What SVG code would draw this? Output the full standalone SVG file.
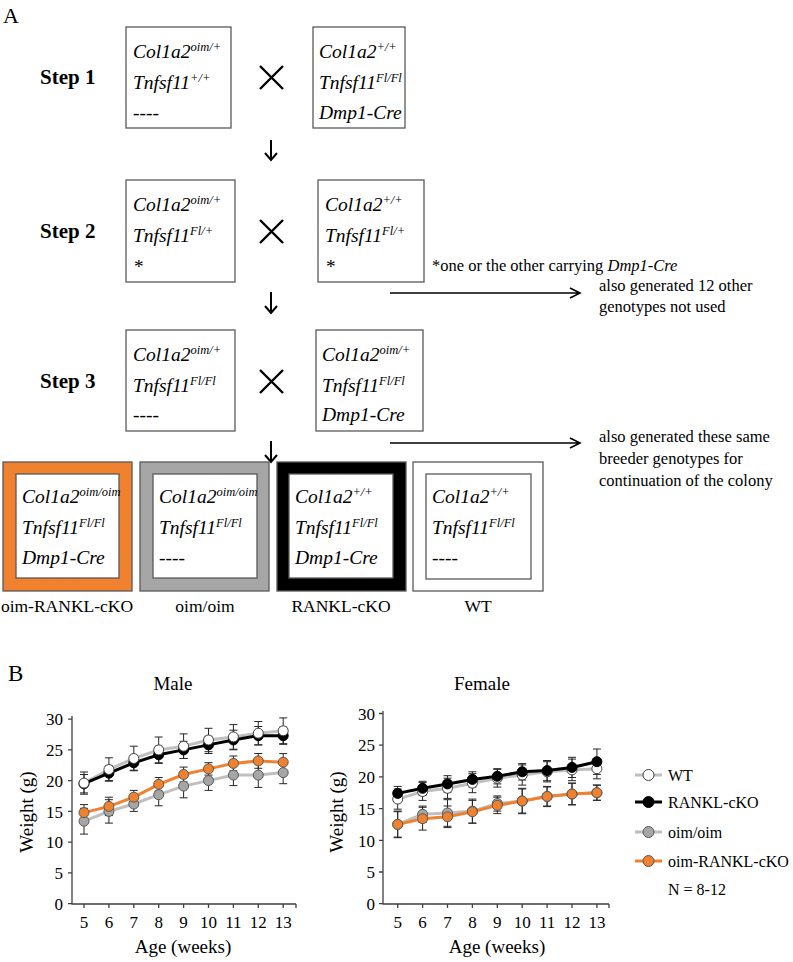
<svg xmlns="http://www.w3.org/2000/svg" width="793" height="962" viewBox="0 0 793 962">
<style>
text{font-family:"Liberation Serif","Times New Roman",serif;fill:#000}
.g{font-style:italic;font-size:19.5px}
.sup{font-size:12.5px}
.step{font-weight:bold;font-size:21px}
.note{font-size:16.5px}
.lab{font-size:17.5px;text-anchor:middle}
.box{fill:#fff;stroke:#595959;stroke-width:1.3}
.cross{stroke:#000;stroke-width:2.4;fill:none}
.arr{stroke:#000;stroke-width:2;fill:none}
.harr{stroke:#000;stroke-width:1.6;fill:none}
.tk{font-size:17px;text-anchor:end}
.tx{font-size:17px;text-anchor:middle}
.ttl{font-size:19px;text-anchor:middle}
.axis{stroke:#404040;stroke-width:1.3;fill:none}
.eb{stroke:#262626;stroke-width:1;fill:none}
.lWT{stroke:#bfbfbf;stroke-width:3;fill:none}
.lRK{stroke:#000;stroke-width:3;fill:none}
.lOI{stroke:#bfbfbf;stroke-width:3;fill:none}
.lOR{stroke:#f0812f;stroke-width:3;fill:none}
.mWT{fill:#fff;stroke:#404040;stroke-width:1}
.mRK{fill:#000;stroke:#000;stroke-width:1}
.mOI{fill:#a6a6a6;stroke:#595959;stroke-width:1}
.mOR{fill:#f0812f;stroke:#595959;stroke-width:1}
.leg{font-size:16px}
</style>

<text x="3" y="23" font-size="22">A</text>

<!-- Step 1 -->
<g id="step1">
<text class="step" x="40" y="84">Step 1</text>
</g>
<g id="s1-left">
<rect class="box" x="126" y="27" width="105" height="101"/>
<text class="g" x="133" y="58">Col1a2<tspan class="sup" dy="-7">oim/+</tspan></text>
<text class="g" x="133" y="89">Tnfsf11<tspan class="sup" dy="-7">+/+</tspan></text>
<text class="g" x="133" y="119">----</text>
</g>
<g id="s1-cross"><path class="cross" d="M260 66L283 89M283 66L260 89"/></g>
<g id="s1-right">
<rect class="box" x="313" y="27" width="92" height="101"/>
<text class="g" x="319" y="58">Col1a2<tspan class="sup" dy="-7">+/+</tspan></text>
<text class="g" x="319" y="89">Tnfsf11<tspan class="sup" dy="-7">Fl/Fl</tspan></text>
<text class="g" x="319" y="119">Dmp1-Cre</text>
</g>

<!-- Step 2 -->
<g id="step2">
<text class="step" x="40" y="238">Step 2</text>
</g>
<g id="s2-left">
<rect class="box" x="126" y="180" width="109" height="102"/>
<text class="g" x="133" y="211">Col1a2<tspan class="sup" dy="-7">oim/+</tspan></text>
<text class="g" x="133" y="242">Tnfsf11<tspan class="sup" dy="-7">Fl/+</tspan></text>
<text class="g" x="133" y="273">*</text>
</g>
<g id="s2-cross"><path class="cross" d="M260 220L283 243M283 220L260 243"/></g>
<g id="s2-right">
<rect class="box" x="318" y="180" width="106" height="102"/>
<text class="g" x="325" y="211">Col1a2<tspan class="sup" dy="-7">+/+</tspan></text>
<text class="g" x="325" y="242">Tnfsf11<tspan class="sup" dy="-7">Fl/+</tspan></text>
<text class="g" x="325" y="273">*</text>
</g>
<text class="note" x="432" y="271">*one or the other carrying <tspan font-style="italic">Dmp1-Cre</tspan></text>
<text class="note" x="599" y="291">also generated 12 other</text>
<text class="note" x="599" y="312">genotypes not used</text>

<!-- Step 3 -->
<g id="step3">
<text class="step" x="40" y="388">Step 3</text>
</g>
<g id="s3-left">
<rect class="box" x="126" y="330" width="109" height="101"/>
<text class="g" x="133" y="361">Col1a2<tspan class="sup" dy="-7">oim/+</tspan></text>
<text class="g" x="133" y="392">Tnfsf11<tspan class="sup" dy="-7">Fl/Fl</tspan></text>
<text class="g" x="133" y="421">----</text>
</g>
<g id="s3-cross"><path class="cross" d="M260 370L283 393M283 370L260 393"/></g>
<g id="s3-right">
<rect class="box" x="316" y="330" width="107" height="101"/>
<text class="g" x="322" y="361">Col1a2<tspan class="sup" dy="-7">oim/+</tspan></text>
<text class="g" x="322" y="392">Tnfsf11<tspan class="sup" dy="-7">Fl/Fl</tspan></text>
<text class="g" x="322" y="421">Dmp1-Cre</text>
</g>
<text class="note" x="599" y="442">also generated these same</text>
<text class="note" x="599" y="464">breeder genotypes for</text>
<text class="note" x="599" y="486">continuation of the colony</text>

<!-- connectors -->
<g id="connectors">
<path class="arr" d="M271 140V160M265 153L271 160L277 153"/>
<path class="arr" d="M271 292V313M265 306L271 313L277 306"/>
<path class="arr" d="M271 441V462M265 455L271 462L277 455"/>
<path class="harr" d="M390 293H580M570 288L580 293L570 298"/>
<path class="harr" d="M390 443H580M570 438L580 443L570 448"/>
</g>

<!-- offspring -->
<g id="oim-rankl-cko">
<rect x="3" y="462" width="129" height="129" fill="#f0812f" stroke="#595959" stroke-width="1.3"/>
<rect class="box" x="16" y="474" width="103" height="104"/>
<text class="g" x="22" y="503">Col1a2<tspan class="sup" dy="-7">oim/oim</tspan></text>
<text class="g" x="22" y="534">Tnfsf11<tspan class="sup" dy="-7">Fl/Fl</tspan></text>
<text class="g" x="22" y="564">Dmp1-Cre</text>
<text class="lab" x="67" y="612">oim-RANKL-cKO</text>
</g>
<g id="oim-oim">
<rect x="140" y="462" width="129" height="129" fill="#a6a6a6" stroke="#595959" stroke-width="1.3"/>
<rect class="box" x="153" y="474" width="104" height="104"/>
<text class="g" x="159" y="503">Col1a2<tspan class="sup" dy="-7">oim/oim</tspan></text>
<text class="g" x="159" y="534">Tnfsf11<tspan class="sup" dy="-7">Fl/Fl</tspan></text>
<text class="g" x="159" y="564">----</text>
<text class="lab" x="205" y="612">oim/oim</text>
</g>
<g id="rankl-cko">
<rect x="277" y="462" width="129" height="129" fill="#000" stroke="#595959" stroke-width="1.3"/>
<rect class="box" x="289" y="474" width="104" height="104"/>
<text class="g" x="295" y="503">Col1a2<tspan class="sup" dy="-7">+/+</tspan></text>
<text class="g" x="295" y="534">Tnfsf11<tspan class="sup" dy="-7">Fl/Fl</tspan></text>
<text class="g" x="295" y="564">Dmp1-Cre</text>
<text class="lab" x="341" y="612">RANKL-cKO</text>
</g>
<g id="wt">
<rect x="413" y="462" width="130" height="129" fill="#fff" stroke="#595959" stroke-width="1.3"/>
<rect class="box" x="426" y="474" width="105" height="105"/>
<text class="g" x="432" y="503">Col1a2<tspan class="sup" dy="-7">+/+</tspan></text>
<text class="g" x="432" y="534">Tnfsf11<tspan class="sup" dy="-7">Fl/Fl</tspan></text>
<text class="g" x="432" y="564">----</text>
<text class="lab" x="478" y="612">WT</text>
</g>

<!-- Panel B -->
<text x="8" y="681" font-size="23">B</text>

<g id="chart-male">
<text class="ttl" x="173" y="690">Male</text>
<path class="axis" d="M72 716V904H296M68 903.6h4M68 872.9h4M68 842.1h4M68 811.4h4M68 780.6h4M68 749.9h4M68 719.1h4M84 904v4M108.9 904v4M133.8 904v4M158.7 904v4M183.6 904v4M208.5 904v4M233.4 904v4M258.3 904v4M283.2 904v4M296 904v4"/>
<text class="tk" x="63" y="909.5">0</text>
<text class="tk" x="63" y="878.5">5</text>
<text class="tk" x="63" y="848">10</text>
<text class="tk" x="63" y="817.5">15</text>
<text class="tk" x="63" y="786.5">20</text>
<text class="tk" x="63" y="756">25</text>
<text class="tk" x="63" y="725">30</text>
<text class="tx" x="84" y="928">5</text><text class="tx" x="108.9" y="928">6</text><text class="tx" x="133.8" y="928">7</text><text class="tx" x="158.7" y="928">8</text><text class="tx" x="183.6" y="928">9</text><text class="tx" x="208.5" y="928">10</text><text class="tx" x="233.4" y="928">11</text><text class="tx" x="258.3" y="928">12</text><text class="tx" x="283.2" y="928">13</text>
<text class="ttl" x="183" y="953">Age (weeks)</text>
<text class="ttl" transform="translate(33 812) rotate(-90)">Weight (g)</text>
<path class="eb" d="M84 808.3V834.1M80 808.3h8M80 834.1h8M108.9 799.7V823.1M104.9 799.7h8M104.9 823.1h8M133.8 796.6V811.4M129.8 796.6h8M129.8 811.4h8M158.7 783.6V805.8M154.7 783.6h8M154.7 805.8h8M183.6 774.4V797.8M179.6 774.4h8M179.6 797.8h8M208.5 770.8V790.4M204.5 770.8h8M204.5 790.4h8M233.4 764.6V785.6M229.4 764.6h8M229.4 785.6h8M258.3 762.8V787.4M254.3 762.8h8M254.3 787.4h8M283.2 761.5V783.7M279.2 761.5h8M279.2 783.7h8"/>
<path class="eb" d="M84 804.6V820.6M80 804.6h8M80 820.6h8M108.9 797.2V815.6M104.9 797.2h8M104.9 815.6h8M133.8 790.4V804M129.8 790.4h8M129.8 804h8M158.7 777.5V791.1M154.7 777.5h8M154.7 791.1h8M183.6 767.1V781.9M179.6 767.1h8M179.6 781.9h8M208.5 762.7V775.1M204.5 762.7h8M204.5 775.1h8M233.4 756V770.8M229.4 756h8M229.4 770.8h8M258.3 753.5V768.3M254.3 753.5h8M254.3 768.3h8M283.2 753.6V770.8M279.2 753.6h8M279.2 770.8h8"/>
<path class="eb" d="M84 774.5V792.9M80 774.5h8M80 792.9h8M108.9 765.8V780.6M104.9 765.8h8M104.9 780.6h8M133.8 755.4V770.2M129.8 755.4h8M129.8 770.2h8M158.7 746.2V763.4M154.7 746.2h8M154.7 763.4h8M183.6 741.3V758.5M179.6 741.3h8M179.6 758.5h8M208.5 736.3V753.5M204.5 736.3h8M204.5 753.5h8M233.4 730.2V749.8M229.4 730.2h8M229.4 749.8h8M258.3 726.5V744.9M254.3 726.5h8M254.3 744.9h8M283.2 727.1V744.3M279.2 727.1h8M279.2 744.3h8"/>
<path class="eb" d="M84 772V794.2M80 772h8M80 794.2h8M108.9 757.8V781.2M104.9 757.8h8M104.9 781.2h8M133.8 746.2V770.8M129.8 746.2h8M129.8 770.8h8M158.7 737V762.8M154.7 737h8M154.7 762.8h8M183.6 733.9V758.5M179.6 733.9h8M179.6 758.5h8M208.5 728.3V751.7M204.5 728.3h8M204.5 751.7h8M233.4 724.6V749.2M229.4 724.6h8M229.4 749.2h8M258.3 721.5V744.9M254.3 721.5h8M254.3 744.9h8M283.2 717.9V743.7M279.2 717.9h8M279.2 743.7h8"/>
<polyline class="lOI" points="84,821.2 108.9,811.4 133.8,804 158.7,794.7 183.6,786.1 208.5,780.6 233.4,775.1 258.3,775.1 283.2,772.6"/>
<polyline class="lOR" points="84,812.6 108.9,806.4 133.8,797.2 158.7,784.3 183.6,774.5 208.5,768.9 233.4,763.4 258.3,760.9 283.2,762.2"/>
<polyline class="lWT" points="84,783.1 108.9,769.5 133.8,758.5 158.7,749.9 183.6,746.2 208.5,740 233.4,736.9 258.3,733.2 283.2,730.8"/>
<polyline class="lRK" points="84,783.7 108.9,773.2 133.8,762.8 158.7,754.8 183.6,749.9 208.5,744.9 233.4,740 258.3,735.7 283.2,735.7"/>
<g class="mOI"><circle cx="84" cy="821.2" r="5"/><circle cx="108.9" cy="811.4" r="5"/><circle cx="133.8" cy="804" r="5"/><circle cx="158.7" cy="794.7" r="5"/><circle cx="183.6" cy="786.1" r="5"/><circle cx="208.5" cy="780.6" r="5"/><circle cx="233.4" cy="775.1" r="5"/><circle cx="258.3" cy="775.1" r="5"/><circle cx="283.2" cy="772.6" r="5"/></g>
<g class="mOR"><circle cx="84" cy="812.6" r="5"/><circle cx="108.9" cy="806.4" r="5"/><circle cx="133.8" cy="797.2" r="5"/><circle cx="158.7" cy="784.3" r="5"/><circle cx="183.6" cy="774.5" r="5"/><circle cx="208.5" cy="768.9" r="5"/><circle cx="233.4" cy="763.4" r="5"/><circle cx="258.3" cy="760.9" r="5"/><circle cx="283.2" cy="762.2" r="5"/></g>
<g class="mRK"><circle cx="84" cy="783.7" r="5"/><circle cx="108.9" cy="773.2" r="5"/><circle cx="133.8" cy="762.8" r="5"/><circle cx="158.7" cy="754.8" r="5"/><circle cx="183.6" cy="749.9" r="5"/><circle cx="208.5" cy="744.9" r="5"/><circle cx="233.4" cy="740" r="5"/><circle cx="258.3" cy="735.7" r="5"/><circle cx="283.2" cy="735.7" r="5"/></g>
<g class="mWT"><circle cx="84" cy="783.1" r="5"/><circle cx="108.9" cy="769.5" r="5"/><circle cx="133.8" cy="758.5" r="5"/><circle cx="158.7" cy="749.9" r="5"/><circle cx="183.6" cy="746.2" r="5"/><circle cx="208.5" cy="740" r="5"/><circle cx="233.4" cy="736.9" r="5"/><circle cx="258.3" cy="733.2" r="5"/><circle cx="283.2" cy="730.8" r="5"/></g>
</g>

<g id="chart-female">
<text class="ttl" x="482" y="690">Female</text>
<path class="axis" d="M383 711V904H609M379 903.7h4M379 872h4M379 840.3h4M379 808.6h4M379 776.9h4M379 745.2h4M379 713.5h4M397.7 904v4M422.6 904v4M447.5 904v4M472.4 904v4M497.3 904v4M522.2 904v4M547.1 904v4M572 904v4M596.9 904v4M609 904v4"/>
<text class="tk" x="375" y="909.5">0</text>
<text class="tk" x="375" y="878">5</text>
<text class="tk" x="375" y="846.5">10</text>
<text class="tk" x="375" y="814.5">15</text>
<text class="tk" x="375" y="783">20</text>
<text class="tk" x="375" y="751">25</text>
<text class="tk" x="375" y="719.5">30</text>
<text class="tx" x="397.7" y="928">5</text><text class="tx" x="422.6" y="928">6</text><text class="tx" x="447.5" y="928">7</text><text class="tx" x="472.4" y="928">8</text><text class="tx" x="497.3" y="928">9</text><text class="tx" x="522.2" y="928">10</text><text class="tx" x="547.1" y="928">11</text><text class="tx" x="572" y="928">12</text><text class="tx" x="596.9" y="928">13</text>
<text class="ttl" x="497" y="953">Age (weeks)</text>
<text class="ttl" transform="translate(343 812) rotate(-90)">Weight (g)</text>
<path class="eb" d="M397.7 811.7V837.1M393.7 811.7h8M393.7 837.1h8M422.6 806.1V822.5M418.6 806.1h8M418.6 822.5h8M447.5 799.7V826.3M443.5 799.7h8M443.5 826.3h8M472.4 799.1V823.1M468.4 799.1h8M468.4 823.1h8M497.3 795.9V811.1M493.3 795.9h8M493.3 811.1h8M522.2 789V813M518.2 789h8M518.2 813h8M547.1 787V806M543.1 787h8M543.1 806h8M572 783.2V804.8M568 783.2h8M568 804.8h8M596.9 785.1V800.3M592.9 785.1h8M592.9 800.3h8"/>
<path class="eb" d="M397.7 811.1V837.7M393.7 811.1h8M393.7 837.7h8M422.6 807.3V830.1M418.6 807.3h8M418.6 830.1h8M447.5 806V827.6M443.5 806h8M443.5 827.6h8M472.4 800.4V823.2M468.4 800.4h8M468.4 823.2h8M497.3 797.2V813.6M493.3 797.2h8M493.3 813.6h8M522.2 788.3V813.7M518.2 788.3h8M518.2 813.7h8M547.1 786.4V806.6M543.1 786.4h8M543.1 806.6h8M572 783.2V804.8M568 783.2h8M568 804.8h8M596.9 785.1V800.3M592.9 785.1h8M592.9 800.3h8"/>
<path class="eb" d="M397.7 789V809.2M393.7 789h8M393.7 809.2h8M422.6 782.6V800.4M418.6 782.6h8M418.6 800.4h8M447.5 778.2V798.4M443.5 778.2h8M443.5 798.4h8M472.4 773.7V792.7M468.4 773.7h8M468.4 792.7h8M497.3 769.3V787.1M493.3 769.3h8M493.3 787.1h8M522.2 764.9V785.1M518.2 764.9h8M518.2 785.1h8M547.1 761.7V781.9M543.1 761.7h8M543.1 781.9h8M572 759.1V780.7M568 759.1h8M568 780.7h8M596.9 758.6V778.8M592.9 758.6h8M592.9 778.8h8"/>
<path class="eb" d="M397.7 786.4V800.4M393.7 786.4h8M393.7 800.4h8M422.6 781.3V795.3M418.6 781.3h8M418.6 795.3h8M447.5 775.7V792.1M443.5 775.7h8M443.5 792.1h8M472.4 771.8V787M468.4 771.8h8M468.4 787h8M497.3 768.7V783.9M493.3 768.7h8M493.3 783.9h8M522.2 763.6V780M518.2 763.6h8M518.2 780h8M547.1 760.5V780.7M543.1 760.5h8M543.1 780.7h8M572 757.3V777.5M568 757.3h8M568 777.5h8M596.9 749V774.4M592.9 749h8M592.9 774.4h8"/>
<polyline class="lOI" points="397.7,824.4 422.6,814.3 447.5,813 472.4,811.1 497.3,803.5 522.2,801 547.1,796.5 572,794 596.9,792.7"/>
<polyline class="lOR" points="397.7,824.4 422.6,818.7 447.5,816.8 472.4,811.8 497.3,805.4 522.2,801 547.1,796.5 572,794 596.9,792.7"/>
<polyline class="lWT" points="397.7,799.1 422.6,791.5 447.5,788.3 472.4,783.2 497.3,778.2 522.2,775 547.1,771.8 572,769.9 596.9,768.7"/>
<polyline class="lRK" points="397.7,793.4 422.6,788.3 447.5,783.9 472.4,779.4 497.3,776.3 522.2,771.8 547.1,770.6 572,767.4 596.9,761.7"/>
<g class="mOI"><circle cx="397.7" cy="824.4" r="5"/><circle cx="422.6" cy="814.3" r="5"/><circle cx="447.5" cy="813" r="5"/><circle cx="472.4" cy="811.1" r="5"/><circle cx="497.3" cy="803.5" r="5"/><circle cx="522.2" cy="801" r="5"/><circle cx="547.1" cy="796.5" r="5"/><circle cx="572" cy="794" r="5"/><circle cx="596.9" cy="792.7" r="5"/></g>
<g class="mOR"><circle cx="397.7" cy="824.4" r="5"/><circle cx="422.6" cy="818.7" r="5"/><circle cx="447.5" cy="816.8" r="5"/><circle cx="472.4" cy="811.8" r="5"/><circle cx="497.3" cy="805.4" r="5"/><circle cx="522.2" cy="801" r="5"/><circle cx="547.1" cy="796.5" r="5"/><circle cx="572" cy="794" r="5"/><circle cx="596.9" cy="792.7" r="5"/></g>
<g class="mWT"><circle cx="397.7" cy="799.1" r="5"/><circle cx="422.6" cy="791.5" r="5"/><circle cx="447.5" cy="788.3" r="5"/><circle cx="472.4" cy="783.2" r="5"/><circle cx="497.3" cy="778.2" r="5"/><circle cx="522.2" cy="775" r="5"/><circle cx="547.1" cy="771.8" r="5"/><circle cx="572" cy="769.9" r="5"/><circle cx="596.9" cy="768.7" r="5"/></g>
<g class="mRK"><circle cx="397.7" cy="793.4" r="5"/><circle cx="422.6" cy="788.3" r="5"/><circle cx="447.5" cy="783.9" r="5"/><circle cx="472.4" cy="779.4" r="5"/><circle cx="497.3" cy="776.3" r="5"/><circle cx="522.2" cy="771.8" r="5"/><circle cx="547.1" cy="770.6" r="5"/><circle cx="572" cy="767.4" r="5"/><circle cx="596.9" cy="761.7" r="5"/></g>
</g>

<g id="legend">
<line class="lWT" x1="635" y1="775" x2="662" y2="775"/><circle class="mWT" cx="648.5" cy="775" r="5.5"/>
<text class="leg" x="668" y="780.5">WT</text>
<line class="lRK" x1="635" y1="802" x2="662" y2="802"/><circle class="mRK" cx="648.5" cy="802" r="5.5"/>
<text class="leg" x="668" y="807.5">RANKL-cKO</text>
<line class="lOI" x1="635" y1="832" x2="662" y2="832"/><circle class="mOI" cx="648.5" cy="832" r="5.5"/>
<text class="leg" x="668" y="837.5">oim/oim</text>
<line class="lOR" x1="635" y1="861" x2="662" y2="861"/><circle class="mOR" cx="648.5" cy="861" r="5.5"/>
<text class="leg" x="668" y="866.5">oim-RANKL-cKO</text>
<text class="leg" x="668" y="894.5">N = 8-12</text>
</g>
</svg>
